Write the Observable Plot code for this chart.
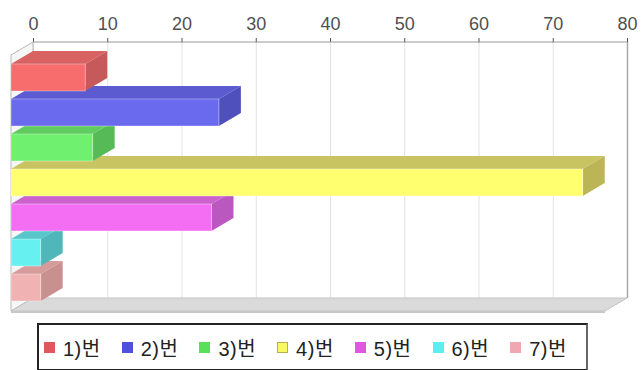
<!DOCTYPE html>
<html>
<head>
<meta charset="utf-8">
<script src="https://cdn.jsdelivr.net/npm/d3@7"></script>
<script src="https://cdn.jsdelivr.net/npm/@observablehq/plot@0.6"></script>
<style>
  html, body { margin: 0; padding: 0; background: #fff; }
  #wrap { position: relative; width: 642px; height: 370px; overflow: hidden; }
  #chart svg { display: block; }
  #legend {
    position: absolute; left: 37px; top: 323px; width: 547px; height: 44px;
    border: 2px solid #222; border-right-color: #666; box-sizing: content-box;
    font-family: "Liberation Sans", "Noto Sans CJK KR", sans-serif; font-size: 20px; color: #222;
  }
  .item { position: absolute; top: 0; height: 44px; display: flex; align-items: center; white-space: nowrap; letter-spacing: 0.5px; }
  .sw { width: 11px; height: 11px; margin-right: 8px; box-sizing: border-box; }
</style>
</head>
<body>
<div id="wrap">
  <div id="chart"></div>
  <div id="legend"></div>
</div>
<script>
// ---- data ----
const categories = ["1)번", "2)번", "3)번", "4)번", "5)번", "6)번", "7)번"];
const counts = [10, 28, 11, 77, 27, 4, 4];
const xTicks = [0, 10, 20, 30, 40, 50, 60, 70, 80];

// ---- styles ----
const frontColors = ["#f76c6c", "#6a6aee", "#6ff06f", "#ffff70", "#f46ef4", "#66f0f0", "#f0b2b2"];
const topColors   = ["#d86262", "#5c5cd0", "#60cc60", "#c9c462", "#cc62cc", "#58c6ca", "#d69c9c"];
const sideColors  = ["#c65a5a", "#5050bc", "#56ba56", "#bbb556", "#bb58bf", "#4fb6ba", "#c99090"];
const swatchColors = ["#e0585c", "#5050e0", "#58e058", "#f8f860", "#e058e0", "#58f0f0", "#f0a8b0"];
const DX = 22, DY = 13;

const rows = categories.map((c, i) => ({cat: c, count: counts[i], front: frontColors[i]}));

function walls(index, scales, values, dimensions) {
  const {x} = scales;
  const top = dimensions.marginTop, bottom = dimensions.height - dimensions.marginBottom;
  const xa = x(xTicks[0]), xb = x(xTicks[xTicks.length - 1]);
  const g = d3.create("svg:g");
  // left wall
  g.append("path")
    .attr("d", `M${xa},${top}L${xa},${bottom}L${xa - DX},${bottom + DY}L${xa - DX},${top + DY}Z`)
    .attr("fill", "#f6f6f6").attr("stroke", "#b8b8b8").attr("stroke-width", 1);
  // floor
  g.append("path")
    .attr("d", `M${xa},${bottom}L${xb},${bottom}L${xb - DX},${bottom + DY}L${xa - DX},${bottom + DY}Z`)
    .attr("fill", "#dadada").attr("stroke", "#c4c4c4").attr("stroke-width", 1);
  g.append("path")
    .attr("d", `M${xa - DX},${bottom + DY}L${xb - DX},${bottom + DY}L${xb - DX},${bottom + DY + 2}L${xa - DX},${bottom + DY + 2}Z`)
    .attr("fill", "#c8c8c8");
  // axis line
  g.append("line").attr("x1", xa).attr("x2", xb).attr("y1", top).attr("y2", top)
    .attr("stroke", "#999").attr("stroke-width", 1);
  return g.node();
}

function depthFaces(index, scales, values, dimensions) {
  const {x, y} = scales;
  const bw = y.bandwidth();
  const g = d3.create("svg:g");
  for (let i = categories.length - 1; i >= 0; --i) {
    const yb = y(categories[i]);
    const x0 = x(0), x1 = x(counts[i]);
    g.append("path")
      .attr("d", `M${x0},${yb}L${x1},${yb}L${x1 - DX},${yb + DY}L${x0 - DX},${yb + DY}Z`)
      .attr("fill", topColors[i]);
    g.append("path")
      .attr("d", `M${x1},${yb}L${x1},${yb + bw}L${x1 - DX},${yb + bw + DY}L${x1 - DX},${yb + DY}Z`)
      .attr("fill", sideColors[i]);
  }
  return g.node();
}

const plot = Plot.plot({
  width: 642,
  height: 316,
  marginTop: 42,
  marginBottom: 18,
  marginLeft: 33,
  marginRight: 15,
  style: {fontSize: "18px", fontFamily: "'Liberation Sans', sans-serif", color: "#505050", background: "transparent"},
  x: {domain: [xTicks[0], xTicks[xTicks.length - 1]], axis: "top", ticks: xTicks, tickSize: 5, tickPadding: 8, label: null},
  y: {domain: categories, axis: null, paddingInner: 0.22, paddingOuter: 0.25},
  color: {type: "identity"},
  marks: [
    Plot.ruleX(xTicks, {stroke: "#e2e2e2"}),
    walls,
    Plot.ruleX([xTicks[xTicks.length - 1]], {stroke: "#a8a8a8", strokeWidth: 1.5}),
    depthFaces,
    Plot.barX(rows, {x1: d => 0, x2: "count", y: "cat", fill: "front", dx: -DX, dy: DY,
      stroke: "#ffffff", strokeOpacity: 0.35, strokeWidth: 1})
  ]
});
document.getElementById("chart").appendChild(plot);

// legend
const legend = d3.select("#legend");
categories.forEach((c, i) => {
  const item = legend.append("div").attr("class", "item").style("left", (5 + i * 77.7) + "px");
  item.append("div").attr("class", "sw").style("background", swatchColors[i])
    .style("border", i === 3 ? "1px solid #b8b050" : "none");
  item.append("span").text(c);
});
</script>
</body>
</html>
